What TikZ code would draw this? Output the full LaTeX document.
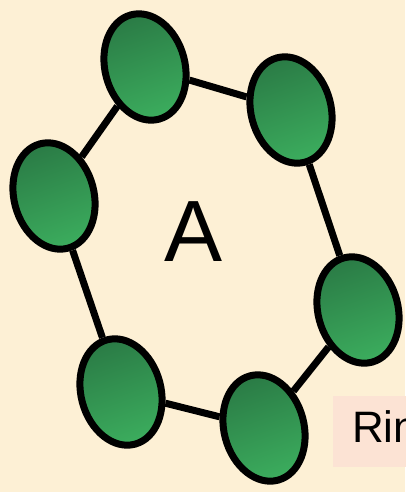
\documentclass[tikz,border=0pt]{standalone}
\usepackage{fontspec}
\setmainfont{Liberation Sans}
\usetikzlibrary{shapes.geometric}
\definecolor{bg}{HTML}{FDF0D5}
\definecolor{boxbg}{HTML}{FCE3D4}
\definecolor{gdark}{HTML}{2A7A45}
\definecolor{glight}{HTML}{3CAE5E}
\tikzset{
  bead/.style={ellipse, draw=black, line width=7pt, minimum width=80pt, minimum height=108pt,
    top color=gdark, bottom color=glight, shading angle=20, rotate=15, inner sep=0pt},
  link/.style={line width=7pt, black},
}
\begin{document}
\begin{tikzpicture}[x=1pt,y=-1pt]
\fill[bg] (0,0) rectangle (405,492);
\useasboundingbox (0,0) rectangle (405,492);
\node[bead] (n1) at (145,67) {};
\node[bead] (n2) at (291,110) {};
\node[bead] (n3) at (54,196) {};
\node[bead] (n4) at (358,310) {};
\node[bead] (n5) at (121,392) {};
\node[bead] (n6) at (264,428) {};
\draw[link] (n1) -- (n2);
\draw[link] (n1) -- (n3);
\draw[link] (n2) -- (n4);
\draw[link] (n3) -- (n5);
\draw[link] (n5) -- (n6);
\draw[link] (n6) -- (n4);
\node[font=\fontsize{87}{87}\selectfont] (lab) at (194,232) {A};
\node[fill=boxbg, anchor=west, minimum height=71pt, inner xsep=19pt, font=\fontsize{44}{44}\selectfont] (ring) at (333,431.5) {Ring};
\end{tikzpicture}
\end{document}
